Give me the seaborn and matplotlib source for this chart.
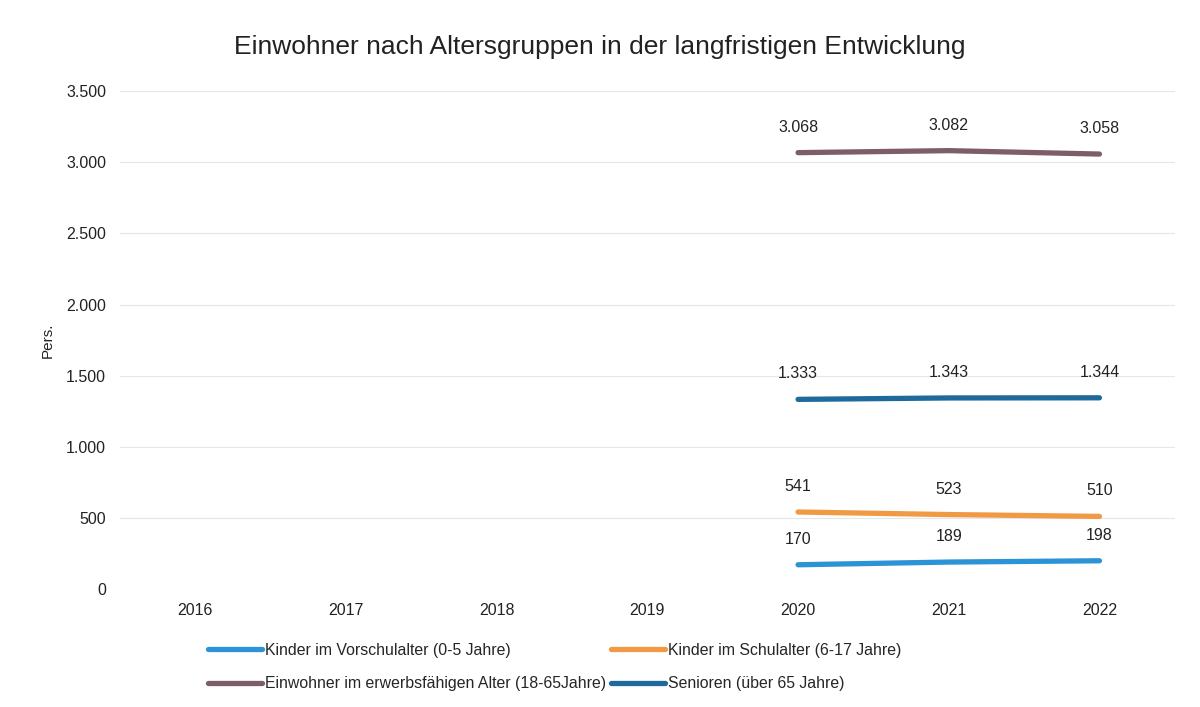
import numpy as np
import pandas as pd
import matplotlib
matplotlib.use("Agg")
import matplotlib.pyplot as plt
import seaborn as sns

years = ["2016", "2017", "2018", "2019", "2020", "2021", "2022"]
kinder_vorschule = [np.nan, np.nan, np.nan, np.nan, 170, 189, 198]
kinder_schule = [np.nan, np.nan, np.nan, np.nan, 541, 523, 510]
erwerbsfaehig = [np.nan, np.nan, np.nan, np.nan, 3068, 3082, 3058]
senioren = [np.nan, np.nan, np.nan, np.nan, 1333, 1343, 1344]

series_names = [
    "Kinder im Vorschulalter (0-5 Jahre)",
    "Kinder im Schulalter (6-17 Jahre)",
    "Einwohner im erwerbsfähigen Alter (18-65Jahre)",
    "Senioren (über 65 Jahre)",
]
series_values = [kinder_vorschule, kinder_schule, erwerbsfaehig, senioren]
colors = ["#2b93d6", "#f19a45", "#7d5d68", "#1f6a9c"]

sns.set_theme(style="white")
plt.rcParams["font.family"] = ["Liberation Sans", "DejaVu Sans"]

rows = []
for name, vals in zip(series_names, series_values):
    for i, (y, v) in enumerate(zip(years, vals)):
        rows.append({"idx": i, "Jahr": y, "Wert": v, "Reihe": name})
df = pd.DataFrame(rows)

fig = plt.figure(figsize=(12, 7.07), dpi=100)
ax = fig.add_axes([0.1, 0.167, 0.879, 0.704])

sns.lineplot(data=df.dropna(), x="idx", y="Wert", hue="Reihe",
             hue_order=series_names, palette=colors, linewidth=3.8,
             solid_capstyle="round", ax=ax, legend=True)

def fmt(v):
    return f"{int(v):,}".replace(",", ".")

for vals in series_values:
    for i, v in enumerate(vals):
        if not np.isnan(v):
            ax.annotate(fmt(v), (i, v), xytext=(0, 13), textcoords="offset points",
                        ha="center", va="bottom", fontsize=11.5, color="#222222")

ax.set_xlim(-0.5, 6.5)
ax.set_ylim(0, 3500)
ax.set_xticks(range(len(years)))
ax.set_xticklabels(years)
yt = np.arange(0, 3501, 500)
ax.set_yticks(yt)
ax.set_yticklabels([fmt(t) for t in yt])
ax.tick_params(axis="both", labelsize=11.5, colors="#222222", length=0, pad=10)
ax.yaxis.grid(True, color="#e6e6e6", linewidth=0.8)
ax.xaxis.grid(False)
for s in ax.spines.values():
    s.set_visible(False)
ax.set_xlabel("")
ax.set_ylabel("Pers.", fontsize=11, color="#222222", labelpad=8)

fig.suptitle("Einwohner nach Altersgruppen in der langfristigen Entwicklung",
             fontsize=19, y=0.95, color="#222222")

handles, labels = ax.get_legend_handles_labels()
order = [0, 2, 1, 3]
ax.legend([handles[i] for i in order], [labels[i] for i in order],
          loc="upper left", bbox_to_anchor=(0.07, -0.08),
          ncol=2, frameon=False, fontsize=11.45, handlelength=3.4,
          handletextpad=0.15, columnspacing=0.35, labelspacing=1.15)

fig.savefig("out.png", dpi=100, facecolor="white")
